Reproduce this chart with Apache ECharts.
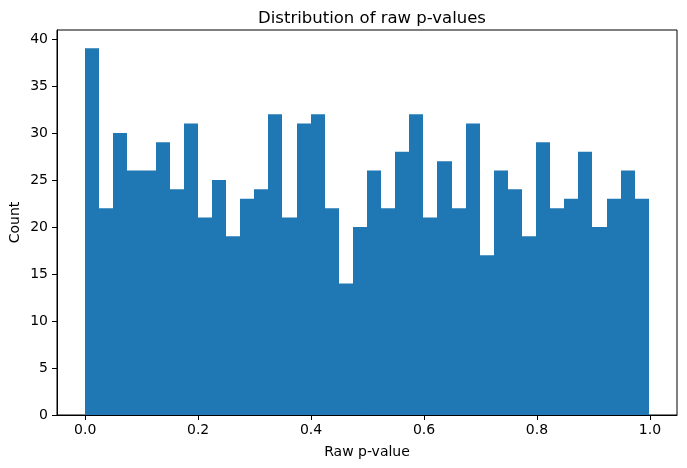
<!DOCTYPE html>
<html>
<head>
<meta charset="utf-8">
<script src="https://cdn.jsdelivr.net/npm/echarts@6/dist/echarts.min.js"></script>
<style>html,body{margin:0;padding:0;background:#fff}#c{width:687px;height:468px}</style>
</head>
<body>
<div id="c"></div>
<script>
// Histogram bin range and counts
const binMin = 0.0;
const binMax = 0.998;
const counts = [39, 22, 30, 26, 26, 29, 24, 31, 21, 25,
                19, 23, 24, 32, 21, 31, 32, 22, 14, 20,
                26, 22, 28, 32, 21, 27, 22, 31, 17, 26,
                24, 19, 29, 22, 23, 28, 20, 23, 26, 23];
const xTicks = [0, 0.2, 0.4, 0.6, 0.8, 1.0];
const yTicks = [0, 5, 10, 15, 20, 25, 30, 35, 40];

const nBins = counts.length;
const binW = (binMax - binMin) / nBins;
const bins = counts.map((c, i) => [binMin + i * binW, binMin + (i + 1) * binW, c]);
const maxCount = Math.max(...counts);
const span = binMax - binMin;

const font = 'DejaVu Sans';
const chart = echarts.init(document.getElementById('c'), null, {renderer: 'canvas'});
chart.setOption({
  animation: false,
  title: {
    text: 'Distribution of raw p-values',
    left: 367, top: 5, textAlign: 'center',
    textStyle: {fontFamily: font, fontSize: 16.5, fontWeight: 'normal', color: '#000'}
  },
  grid: {left: 57, right: 10, top: 30, bottom: 53, outerBoundsMode: 'none', containLabel: false,
    show: true, borderColor: '#000', borderWidth: 1, backgroundColor: 'transparent'},
  xAxis: {
    type: 'value',
    min: binMin - 0.05 * span, max: binMax + 0.05 * span,
    name: 'Raw p-value', nameLocation: 'middle', nameGap: 30, nameMoveOverlap: false,
    nameTextStyle: {fontFamily: font, fontSize: 14, color: '#000'},
    axisLine: {show: true, onZero: false, lineStyle: {color: '#000', width: 1}},
    axisTick: {show: true, inside: false, length: 5, lineStyle: {color: '#000'}, customValues: xTicks},
    axisLabel: {fontFamily: font, fontSize: 14, color: '#000', margin: 8, customValues: xTicks,
      formatter: v => v.toFixed(1)},
    splitLine: {show: false}
  },
  yAxis: {
    type: 'value',
    min: 0, max: maxCount * 1.05,
    name: 'Count', nameLocation: 'middle', nameGap: 35, nameMoveOverlap: false,
    nameTextStyle: {fontFamily: font, fontSize: 14, color: '#000'},
    axisLine: {show: true, onZero: false, lineStyle: {color: '#000', width: 1}},
    axisTick: {show: true, inside: false, length: 5, lineStyle: {color: '#000'}, customValues: yTicks},
    axisLabel: {fontFamily: font, fontSize: 14, color: '#000', margin: 9, customValues: yTicks},
    splitLine: {show: false}
  },
  series: [{
    type: 'custom',
    data: bins,
    encode: {x: [0, 1], y: 2},
    renderItem: function (params, api) {
      const p0 = api.coord([api.value(0), api.value(2)]);
      const p1 = api.coord([api.value(1), 0]);
      const xa = Math.round(p0[0]), xb = Math.round(p1[0]);
      return {
        type: 'rect',
        shape: {x: xa, y: p0[1], width: xb - xa, height: p1[1] - p0[1]},
        style: {fill: '#1f77b4'}
      };
    }
  }]
});
</script>
</body>
</html>
